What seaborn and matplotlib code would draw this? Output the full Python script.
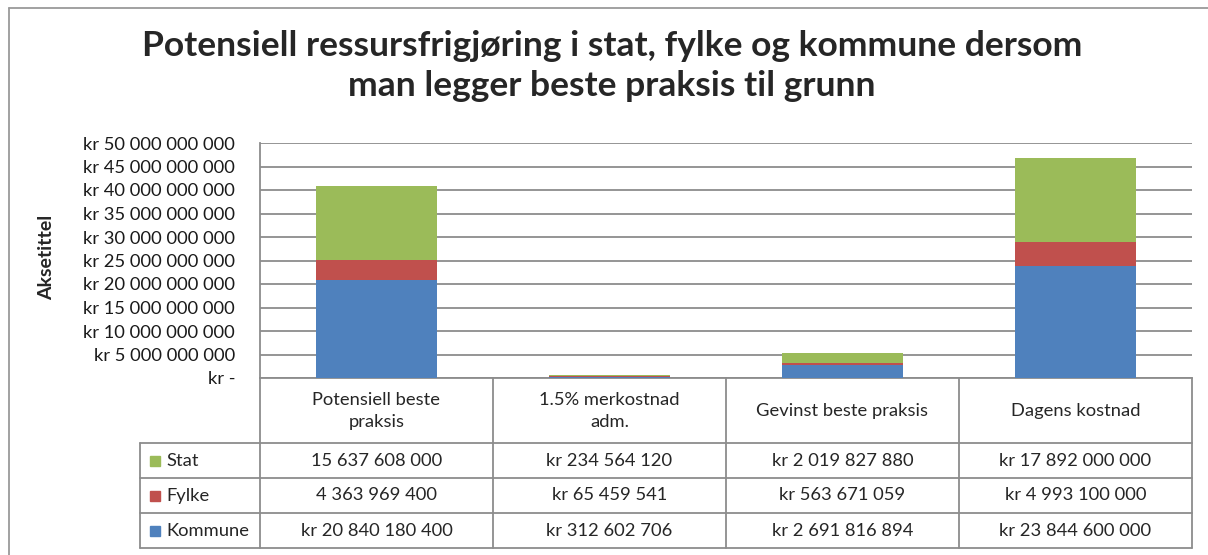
import numpy as np
import pandas as pd
import seaborn as sns
import matplotlib.pyplot as plt
from matplotlib.lines import Line2D
from matplotlib.patches import Rectangle

## Data (from the reference table)
categories = ['Potensiell beste\npraksis', '1.5% merkostnad\nadm.', 'Gevinst beste praksis', 'Dagens kostnad']
series = ['Stat', 'Fylke', 'Kommune']
stat = [15637608000, 234564120, 2019827880, 17892000000]
fylke = [4363969400, 65459541, 563671059, 4993100000]
kommune = [20840180400, 312602706, 2691816894, 23844600000]
# which table cells carry the "kr" prefix
kr_stat = [False, True, True, True]
kr_fylke = [False, True, True, True]
kr_kommune = [True, True, True, True]
yticks = np.arange(0, 50e9 + 1, 5e9)

colors = {'Stat': '#9BBB59', 'Fylke': '#C0504D', 'Kommune': '#4F81BD'}
grid_col = '#8C8C8C'

sns.set_theme(style='white')
plt.rcParams['font.family'] = ['Lato', 'DejaVu Sans']

df = pd.DataFrame({'cat': categories, 'Stat': stat, 'Fylke': fylke, 'Kommune': kommune})
df['top_kommune'] = df['Kommune']
df['top_fylke'] = df['Kommune'] + df['Fylke']
df['top_stat'] = df['top_fylke'] + df['Stat']

W, H = 1208, 555
fig = plt.figure(figsize=(W / 100, H / 100), dpi=100)

ax = fig.add_axes([260 / W, 1 - 378 / H, (1192 - 260) / W, (378 - 143) / H])

##Stacked bars, drawn from the cumulative top down
for col, name in [('top_stat', 'Stat'), ('top_fylke', 'Fylke'), ('top_kommune', 'Kommune')]:
    sns.barplot(data=df, x='cat', y=col, color=colors[name], width=0.52,
                saturation=1, linewidth=0, ax=ax, zorder=3)

ax.set_ylim(0, 50e9)
ax.set_xlim(-0.5, 3.5)
ax.set_yticks(yticks)

def kr_fmt(v, _=None):
    if v == 0:
        return 'kr -'
    return 'kr ' + f'{int(v):,}'.replace(',', ' ')

ax.yaxis.set_major_formatter(plt.FuncFormatter(kr_fmt))
ax.tick_params(axis='y', labelsize=13.2, pad=18, length=0, labelcolor='#1a1a1a')
ax.set_xticks([])
ax.set_xlabel('')
ax.set_ylabel('')
ax.grid(axis='y', color=grid_col, linewidth=1.3, zorder=0)
ax.set_axisbelow(True)
for s in ['top', 'right']:
    ax.spines[s].set_visible(False)
for s in ['left', 'bottom']:
    ax.spines[s].set_color(grid_col)
    ax.spines[s].set_linewidth(1.3)

fig.text(47 / W, 1 - 257 / H, 'Aksetittel', rotation=90, ha='center', va='center',
         fontsize=14, fontweight='bold')

fig.text(612 / W, 1 - 30 / H,
         'Potensiell ressursfrigjøring i stat, fylke og kommune dersom\nman legger beste praksis til grunn',
         ha='center', va='top', fontsize=25.5, fontweight='bold', linespacing=1.3)

##Data table below the plot
tx = fig.add_axes([140 / W, 1 - 548 / H, (1192 - 140) / W, (548 - 378) / H])
lab_w = 120 / 233
tx.set_xlim(-lab_w, 4)
tx.set_ylim(170, 0)
tx.axis('off')
lk = dict(color=grid_col, linewidth=1.3, clip_on=False)
for i in range(5):
    tx.plot([i, i], [0, 170], **lk)
tx.plot([-lab_w, -lab_w], [65, 170], **lk)
for yy in [65, 100, 135, 170]:
    tx.plot([-lab_w, 4], [yy, yy], **lk)

for i, c in enumerate(categories):
    tx.text(i + 0.5, 33, c, ha='center', va='center', fontsize=13.2, linespacing=1.4)

rows = [('Stat', stat, kr_stat), ('Fylke', fylke, kr_fylke), ('Kommune', kommune, kr_kommune)]
for r, (name, vals, krs) in enumerate(rows):
    yc = 65 + 35 * r + 17.5
    tx.add_patch(Rectangle((-lab_w + 10 / 233, yc - 5), 10 / 233, 10,
                           color=colors[name], clip_on=False))
    tx.text(-lab_w + 26 / 233, yc, name, ha='left', va='center', fontsize=13.2)
    for i, v in enumerate(vals):
        s = f'{v:,}'.replace(',', ' ')
        if krs[i]:
            s = 'kr ' + s
        tx.text(i + 0.5, yc, s, ha='center', va='center', fontsize=13.2)

##Outer chart border
fig.add_artist(Line2D([9 / W, 9 / W], [0, 1 - 8 / H], color='#9a9a9a', linewidth=1.3))
fig.add_artist(Line2D([9 / W, 1], [1 - 8 / H, 1 - 8 / H], color='#9a9a9a', linewidth=1.3))

fig.savefig('out.png', dpi=100)
